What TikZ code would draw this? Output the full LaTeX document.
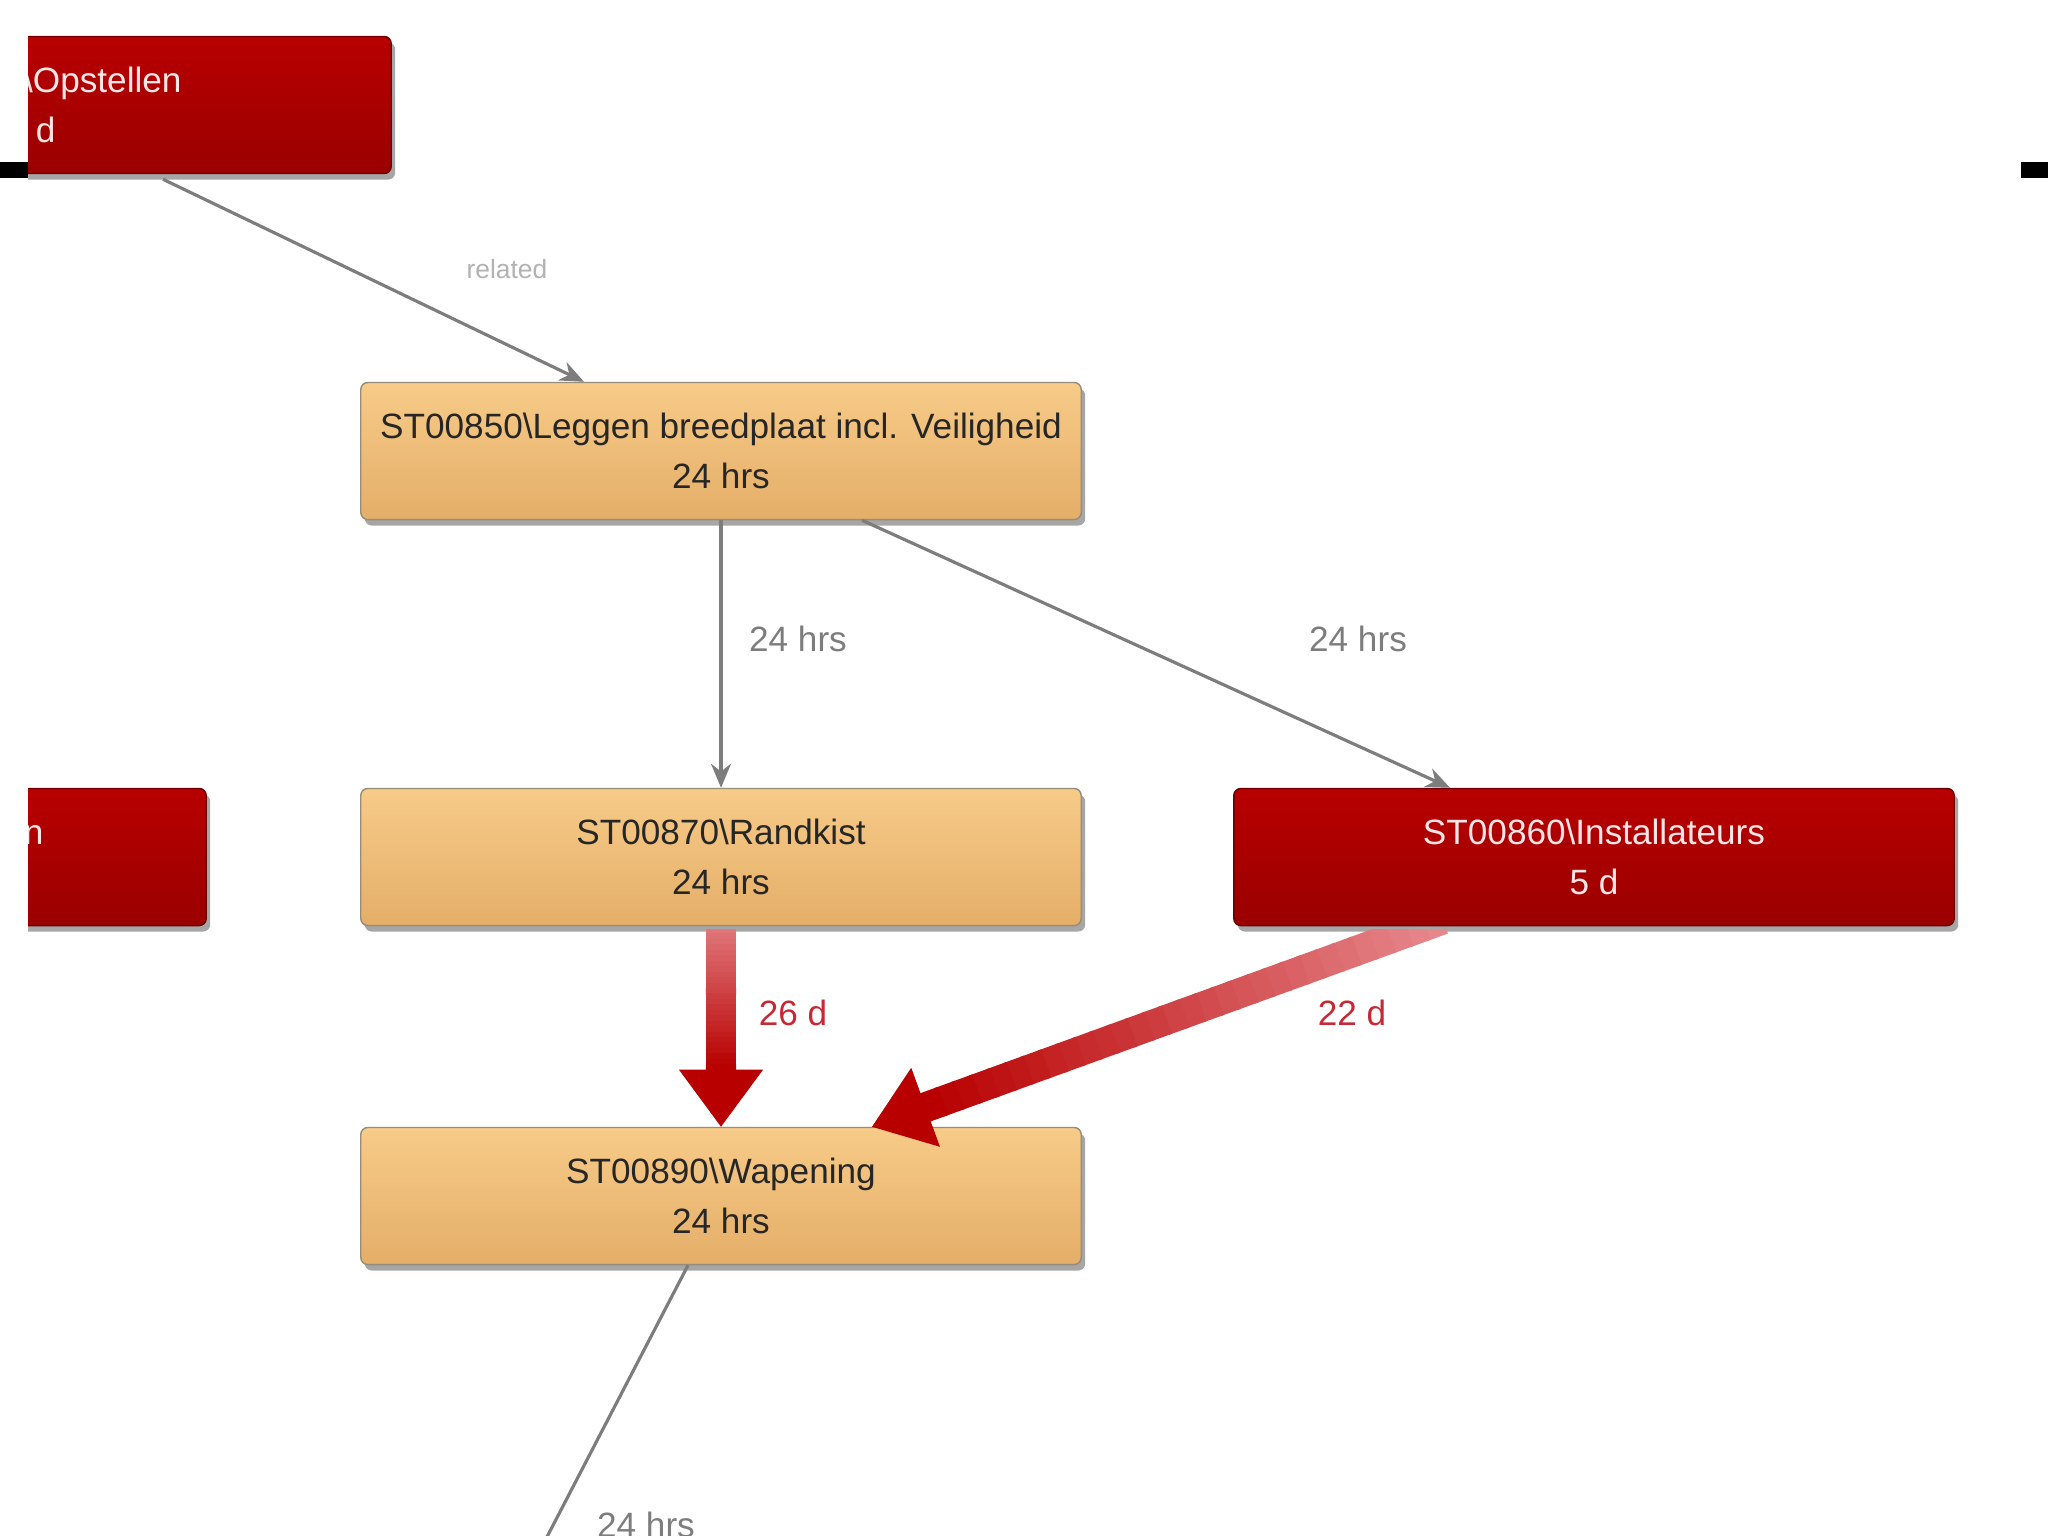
\documentclass[tikz,border=0pt]{standalone}
\usepackage{fontspec}
\setmainfont{Liberation Sans}
\usetikzlibrary{arrows.meta,calc,shadows}
\definecolor{taskorange}{RGB}{247,203,136}
\definecolor{taskorangedk}{RGB}{228,174,104}
\definecolor{taskred}{RGB}{184,0,0}
\definecolor{taskreddk}{RGB}{154,0,0}
\definecolor{taskedge}{RGB}{150,140,122}
\definecolor{linkgray}{RGB}{125,125,125}
\definecolor{critred}{RGB}{200,40,52}
\definecolor{critpink}{RGB}{230,135,140}

\begin{document}
\begin{tikzpicture}[x=0.01cm,y=-0.01cm,>={Stealth},
  every node/.style={font=\fontsize{10}{14}\selectfont},
  task/.style={rectangle,rounded corners=2pt,minimum width=7.2cm,minimum height=1.37cm,align=center,
    drop shadow={shadow xshift=0.04cm,shadow yshift=-0.06cm,fill=black!35,opacity=1}},
  normtask/.style={task,draw=taskedge,top color=taskorange,bottom color=taskorangedk,text=black!85},
  crittask/.style={task,draw=taskreddk!70!black,top color=taskred,bottom color=taskreddk,text=red!10!white},
  link/.style={->,linkgray,line width=0.9pt,>={Stealth[length=2.4mm,width=2mm]}},
  lbl/.style={text=linkgray},
  critlbl/.style={text=critred}]
  \useasboundingbox (0,0) rectangle (2048,1536);
  \fill[white] (0,0) rectangle (2048,1536);
  % frame marks
  \fill[black] (0,162) rectangle (28,178);
  \fill[black] (2021,162) rectangle (2048,178);
  \begin{scope}
  \clip (28,0) rectangle (2021,1536);
  % tasks
  \node[crittask] (E) at (31,105) {ST00840\textbackslash Opstellen\\5 d};
  \node[crittask] (F) at (-154,857) {ST00880\textbackslash Stempelwerken\\5 d};
  \node[normtask] (A) at (721,451) {ST00850\textbackslash Leggen breedplaat incl. Veiligheid\\24 hrs};
  \node[normtask] (B) at (721,857) {ST00870\textbackslash Randkist\\24 hrs};
  \node[crittask] (C) at (1594,857) {ST00860\textbackslash Installateurs\\5 d};
  \node[normtask] (D) at (721,1196) {ST00890\textbackslash Wapening\\24 hrs};
  % normal links
  \draw[link] ($(E.south)+(132,5)$) -- ($(A.north)+(-137,0)$);
  \draw[link] (A.south) -- (B.north);
  \draw[link] ($(A.south)+(141,0)$) -- ($(C.north)+(-144,0)$);
  \coordinate (out) at (535,1560);
  \draw[linkgray,line width=0.9pt] ($(D.south)+(-33,0)$) -- (out);
  \node[lbl,font=\fontsize{7.5}{9}\selectfont,text=black!30] (l0) at (507,269) {related};
  \node[lbl] (l1) at (798,639) {24 hrs};
  \node[lbl] (l2) at (1358,639) {24 hrs};
  \node[lbl] (l5) at (646,1525) {24 hrs};
  % critical links
  \coordinate (bs) at (B.south);
  \coordinate (dt1) at (D.north);
  \coordinate (cs) at ($(C.south)+(-170,0)$);
  \coordinate (dt2) at ($(D.north)+(151,0)$);
  \foreach \s/\t in {bs/dt1,cs/dt2} {
    \coordinate (hb) at ($(\t)!0.57cm!(\s)$);
    \coordinate (st) at ($(\s)!-0.2cm!(\t)$);
    \begin{scope}
    \clip ($(\s)+(-600,3)$) rectangle ($(\t)+(600,0)$);
    \foreach \k in {0,...,29} {
      \pgfmathtruncatemacro\mix{100*\k/29}
      \draw[line width=0.3cm,taskred!\mix!critpink] ($(st)!{\k/30}!(hb)$) -- ($(st)!{(\k+1.2)/30}!(hb)$);
    }
    \end{scope}
    \fill[taskred] (\t) -- ($(hb)!0.42cm!90:(\t)$) -- ($(hb)!0.42cm!-90:(\t)$) -- cycle;
  }
  \node[critlbl] (l3) at (793,1013) {26 d};
  \node[critlbl] (l4) at (1352,1013) {22 d};
  \end{scope}
\end{tikzpicture}
\end{document}
